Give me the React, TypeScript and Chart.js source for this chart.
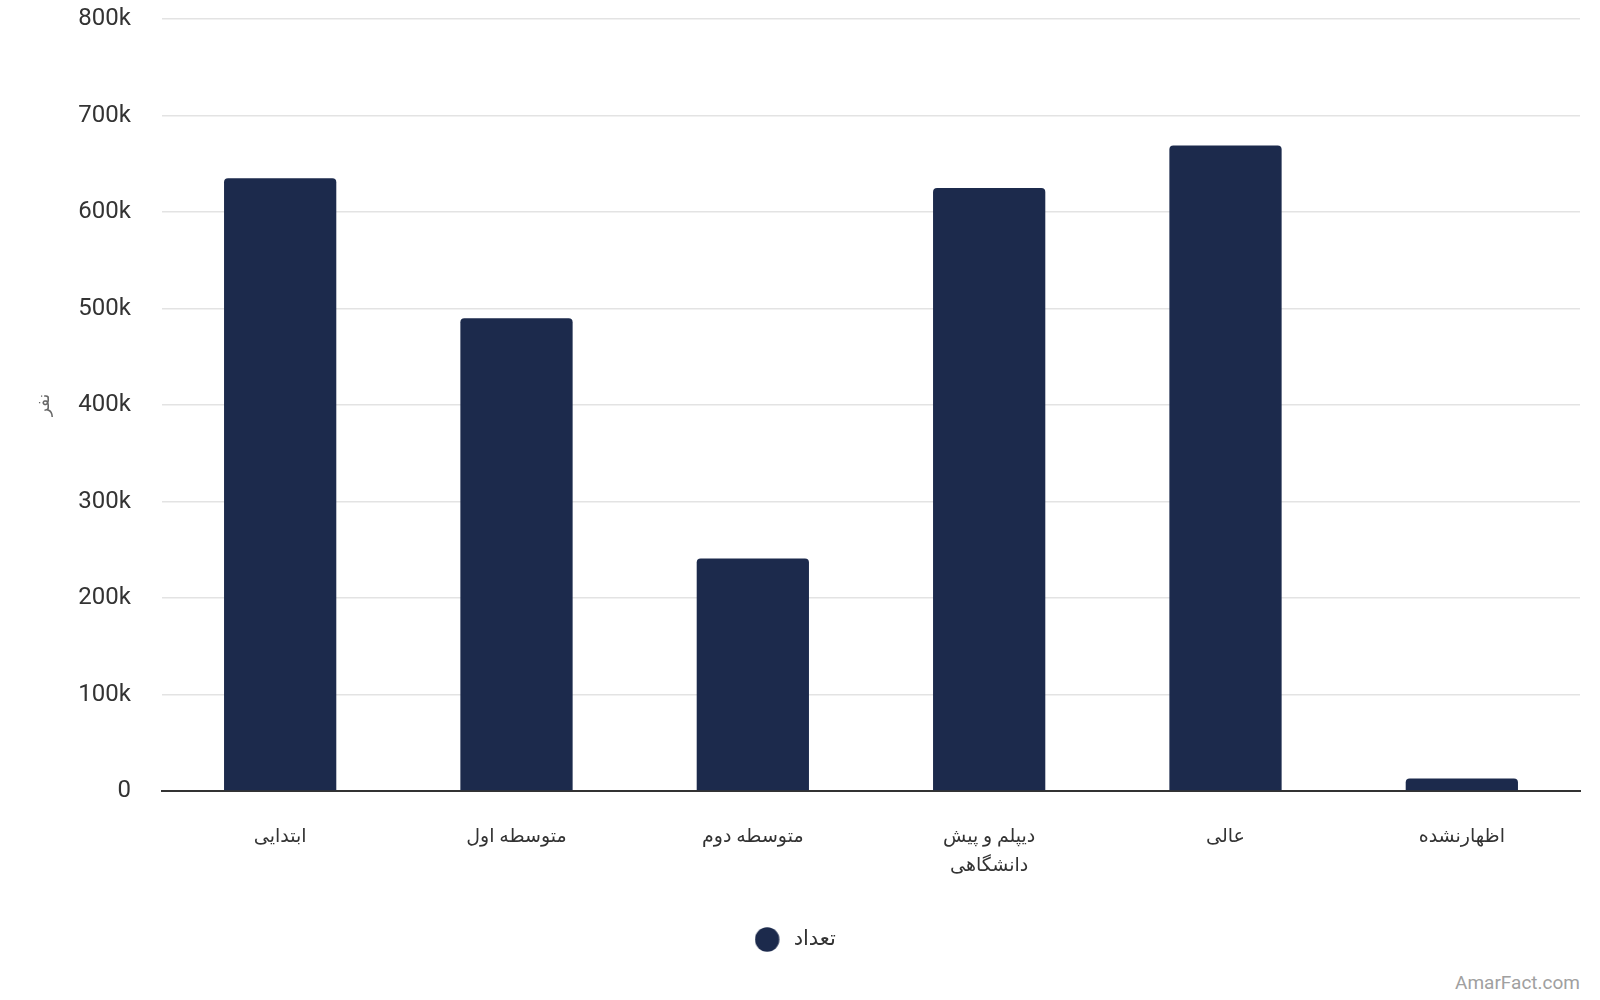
import React, { useEffect, useRef } from 'react';
import { Chart, registerables } from 'chart.js';

Chart.register(...registerables);

const categories: (string | string[])[] = [
  'ابتدایی',
  'متوسطه اول',
  'متوسطه دوم',
  ['دیپلم و پیش', 'دانشگاهی'],
  'عالی',
  'اظهارنشده',
];
const counts = [635000, 490000, 241000, 625000, 669000, 13000];
const seriesName = 'تعداد';
const yTitle = 'نفر';

const barColor = '#1c2a4c';
const fontStack = "Roboto, 'DejaVu Sans', sans-serif";

// legend marker: circle on the left part of a wider image, leaves a gap before the text
const makeLegendDot = () => {
  const c = document.createElement('canvas');
  c.width = 36;
  c.height = 25;
  const ctx = c.getContext('2d');
  if (ctx) {
    ctx.fillStyle = barColor;
    ctx.beginPath();
    ctx.arc(12.5, 12.5, 12.2, 0, Math.PI * 2);
    ctx.fill();
  }
  return c;
};

export default function App() {
  const canvasRef = useRef<HTMLCanvasElement | null>(null);

  useEffect(() => {
    document.body.style.margin = '0';
    if (!canvasRef.current) return;
    const dot = makeLegendDot();
    const chart = new Chart(canvasRef.current, {
      type: 'bar',
      data: {
        labels: categories,
        datasets: [{
          label: seriesName,
          data: counts,
          backgroundColor: barColor,
          borderRadius: { topLeft: 4, topRight: 4, bottomLeft: 0, bottomRight: 0 },
          borderSkipped: 'bottom',
          categoryPercentage: 1,
          barPercentage: 0.475,
          pointStyle: dot,
        }],
      },
      options: {
        animation: false,
        responsive: false,
        layout: { padding: { top: 19, left: 18, right: 20, bottom: 10 } },
        plugins: {
          legend: {
            position: 'bottom',
            labels: {
              usePointStyle: true,
              boxWidth: 21,
              boxHeight: 17,
              padding: 10,
              color: '#333',
              font: { family: fontStack, size: 21 },
            },
          },
          tooltip: { enabled: false },
        },
        scales: {
          x: {
            grid: { display: false },
            border: { display: true, color: '#333', width: 2 },
            ticks: {
              color: '#333',
              padding: 24,
              maxRotation: 0,
              font: { family: fontStack, size: 19, lineHeight: 1.5 },
            },
            afterFit: (scale: any) => { scale.height = 128; },
          },
          y: {
            min: 0,
            max: 800000,
            grid: {
              color: '#e3e3e3',
              lineWidth: 1.5,
              drawTicks: true,
              tickLength: 30,
              tickColor: 'rgba(0,0,0,0)',
            },
            border: { display: false },
            ticks: {
              stepSize: 100000,
              padding: 1,
              color: '#333',
              font: { family: fontStack, size: 24 },
              callback: (v: any) => (v === 0 ? '0' : `${v / 1000}k`),
            },
            title: {
              display: true,
              text: yTitle,
              color: '#666',
              padding: { top: 17, bottom: 0 },
              font: { family: fontStack, size: 17 },
            },
            afterFit: (scale: any) => { scale.width = 144; },
          },
        },
      } as any,
    });
    return () => chart.destroy();
  }, []);

  return (
    <div style={{ position: 'relative', width: 1600, height: 1000, background: '#fff' }}>
      <canvas ref={canvasRef} width={1600} height={970} style={{ display: 'block' }} />
      <div
        style={{
          position: 'absolute',
          right: 20,
          top: 971,
          fontFamily: fontStack,
          fontSize: 19,
          color: '#a0a0a0',
        }}
      >
        AmarFact.com
      </div>
    </div>
  );
}
